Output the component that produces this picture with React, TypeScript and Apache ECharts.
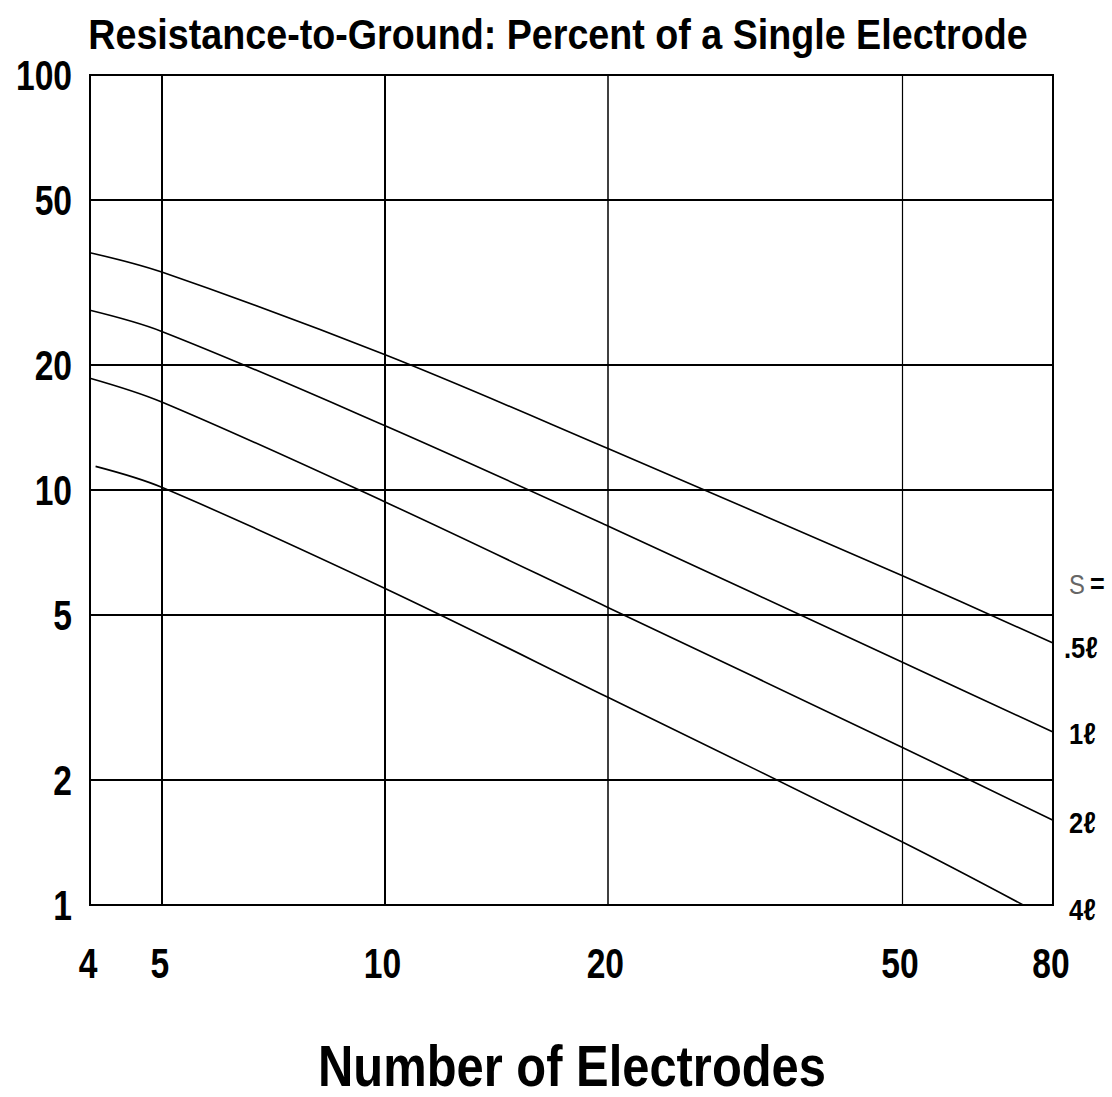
import React, { useEffect, useRef } from "react";
import * as echarts from "echarts";

// Axis tick labels
const xTickValues = [4, 5, 10, 20, 50, 80];
const yTickValues = [1, 2, 5, 10, 20, 50, 100];
// Grid lines drawn inside the plot
const xGridValues = [5, 10, 20, 50];
const yGridValues = [2, 5, 10, 20, 50];

// Curves: [number of electrodes, percent of single electrode]
const curveNames = [".5ℓ", "1ℓ", "2ℓ", "4ℓ"];
const curveHalf: [number, number][] = [[4, 37.3], [5, 33.5], [10, 21.2], [20, 12.6], [50, 6.22], [80, 4.28]];
const curveOne: [number, number][] = [[4, 27.1], [5, 24.1], [10, 14.3], [20, 8.2], [50, 3.85], [80, 2.61]];
const curveTwo: [number, number][] = [[4, 18.6], [5, 16.3], [10, 9.37], [20, 5.22], [50, 2.4], [80, 1.6]];
const curveFour: [number, number][] = [[4.07, 11.4], [5, 10.15], [10, 5.8], [20, 3.17], [50, 1.42], [72.9, 1.0]];
const curves = [curveHalf, curveOne, curveTwo, curveFour];

const FONT = "'Liberation Sans', Arial, sans-serif";
const TITLE = "Resistance-to-Ground: Percent of a Single Electrode";
const XNAME = "Number of Electrodes";

function measure(text: string, size: number): number {
  const c = document.createElement("canvas");
  const ctx = c.getContext("2d")!;
  ctx.font = `bold ${size}px ${FONT}`;
  return ctx.measureText(text).width || text.length * size * 0.55;
}

export default function App() {
  const ref = useRef<HTMLDivElement>(null);
  useEffect(() => {
    document.body.style.margin = "0";
    const chart = echarts.init(ref.current!, undefined, { renderer: "svg" });

    const markData: any[] = [];
    yGridValues.forEach((v) => markData.push({ yAxis: v, lineStyle: { width: 2 } }));
    const xWidths: Record<number, number> = { 5: 2, 10: 2, 20: 1.5, 50: 1.2 };
    xGridValues.forEach((v) => markData.push({ xAxis: v, lineStyle: { width: xWidths[v] ?? 1.5 } }));

    const series: any[] = curves.map((data, i) => ({
      name: curveNames[i],
      type: "line",
      data,
      smooth: 0.35,
      showSymbol: false,
      symbol: "none",
      lineStyle: { color: "#000", width: 1.6 },
      z: 3,
    }));
    series.push({
      type: "line",
      data: [],
      silent: true,
      markLine: {
        silent: true,
        symbol: "none",
        label: { show: false },
        lineStyle: { color: "#000", type: "solid" },
        data: markData,
      },
    });

    chart.setOption({
      animation: false,
      backgroundColor: "#fff",
      grid: {
        left: 90,
        right: 59,
        top: 75,
        bottom: 192,
        show: true,
        borderColor: "#000",
        borderWidth: 2,
        backgroundColor: "transparent",
      },
      xAxis: {
        type: "log",
        logBase: 10,
        min: 4,
        max: 80,
        axisLine: { show: false },
        axisTick: { show: false },
        axisLabel: { show: false },
        splitLine: { show: false },
      },
      yAxis: {
        type: "log",
        logBase: 10,
        min: 1,
        max: 100,
        axisLine: { show: false },
        axisTick: { show: false },
        axisLabel: { show: false },
        splitLine: { show: false },
      },
      series,
    });

    const tickSize = 42;
    const tickScale = 0.8;
    const bold = (text: string, size: number, x: number, y: number, align: string, scaleX: number, extra: any = {}) => ({
      type: "text",
      x,
      y,
      scaleX,
      silent: true,
      style: {
        text,
        fontFamily: FONT,
        fontWeight: "bold",
        fontSize: size,
        fill: "#000",
        align,
        verticalAlign: "middle",
        ...extra,
      },
    });

    const graphics: any[] = [];
    const titleSize = 43;
    graphics.push(bold(TITLE, titleSize, 558, 34, "center", 940 / measure(TITLE, titleSize)));
    const nameSize = 58;
    graphics.push(bold(XNAME, nameSize, 572, 1065, "center", 508 / measure(XNAME, nameSize)));

    const bottomPx = chart.convertToPixel({ gridIndex: 0 }, [4, 1]) as number[];
    yTickValues.forEach((v) => {
      const p = chart.convertToPixel({ gridIndex: 0 }, [4, v]) as number[];
      graphics.push(bold(String(v), tickSize, 72, p[1] + 1, "right", tickScale));
    });
    xTickValues.forEach((v) => {
      const p = chart.convertToPixel({ gridIndex: 0 }, [v, 1]) as number[];
      graphics.push(bold(String(v), tickSize, p[0] - 2, bottomPx[1] + 59, "center", tickScale));
    });

    const rightLabels = [
      { text: ".5ℓ", y: 648, x: 1064 },
      { text: "1ℓ", y: 734, x: 1069 },
      { text: "2ℓ", y: 823, x: 1069 },
      { text: "4ℓ", y: 910, x: 1069 },
    ];
    rightLabels.forEach((l) => graphics.push(bold(l.text, 30, l.x, l.y, "left", 0.85)));
    graphics.push(bold("S", 28, 1069, 584, "left", 0.85, { fontWeight: "normal", fill: "#666" }));
    graphics.push(bold("=", 28, 1090, 584, "left", 0.9));

    chart.setOption({ graphic: graphics });
    return () => chart.dispose();
  }, []);
  return <div ref={ref} style={{ width: 1112, height: 1097 }} />;
}
